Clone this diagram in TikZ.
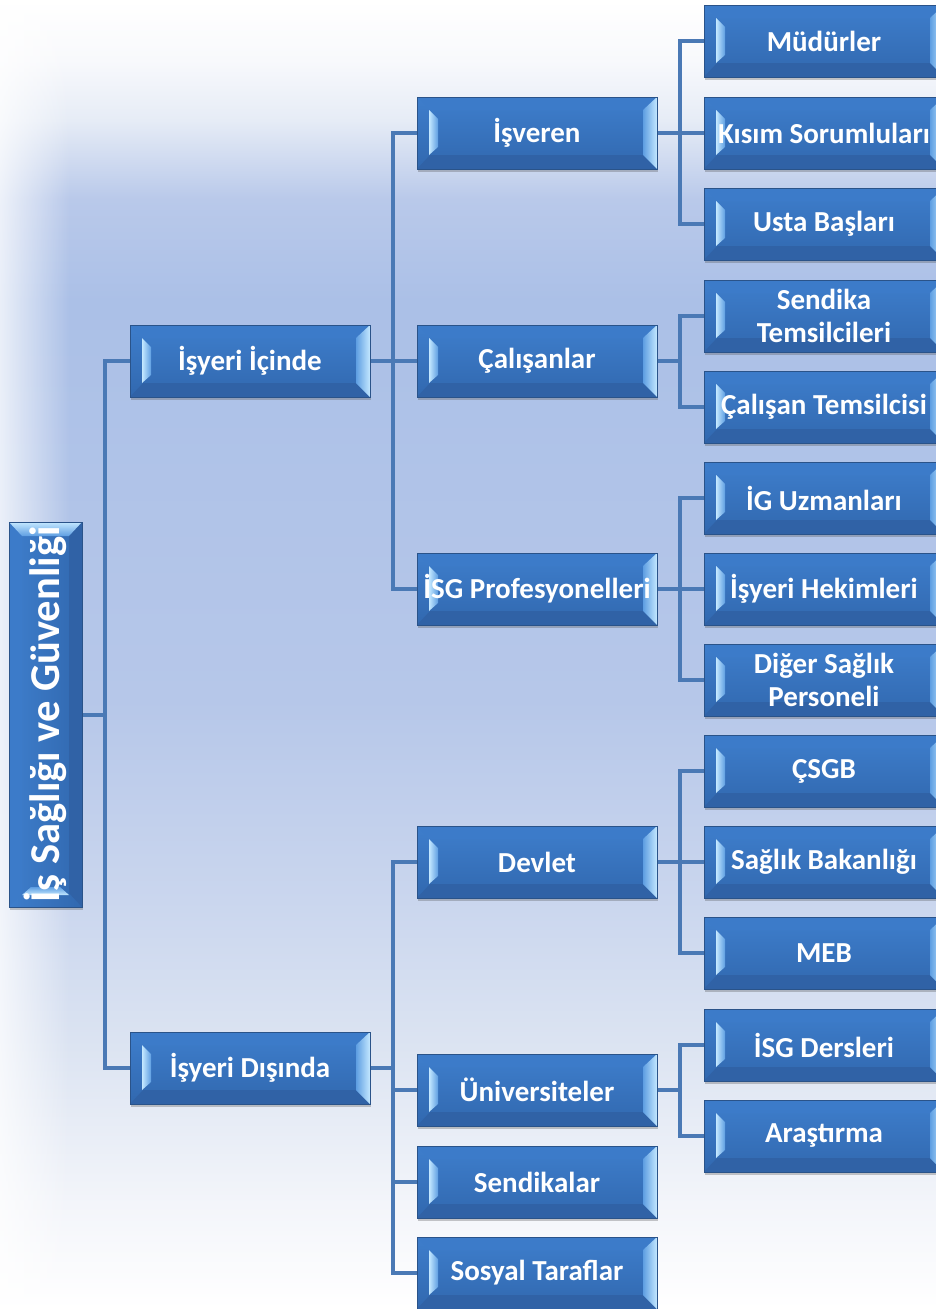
\documentclass[tikz,border=0pt]{standalone}
\usepackage{fontspec}
\setmainfont{Carlito}
\usetikzlibrary{calc,shadows,fadings}
\definecolor{boxtop}{HTML}{3E7ECC}
\definecolor{boxbot}{HTML}{3168AF}
\definecolor{boxline}{HTML}{2A5389}
\definecolor{bevdark}{HTML}{3062A6}
\definecolor{bevtopc}{HTML}{3C7BC9}
\definecolor{bevlightA}{HTML}{C4E8FF}
\definecolor{bevlightB}{HTML}{5E9EE2}
\definecolor{linec}{HTML}{4A79B5}
\definecolor{bgw}{HTML}{FFFFFF}
\definecolor{bga}{HTML}{F3F5FA}
\definecolor{bgb}{HTML}{DCE4F2}
\definecolor{bgc}{HTML}{CAD6EE}
\definecolor{bgd}{HTML}{B6C7E9}
\definecolor{bge}{HTML}{ABC0E7}
\definecolor{bgf}{HTML}{B9C9EA}
\definecolor{bgg}{HTML}{E6ECF6}
\definecolor{bgh}{HTML}{F8F9FC}
\pgfdeclareverticalshading{bgshade}{100bp}{color(0bp)=(bgw); color(25bp)=(bgw); color(29bp)=(bga); color(35bp)=(bgb); color(40.6bp)=(bgc); color(48.3bp)=(bgd); color(63.5bp)=(bge); color(67.4bp)=(bgf); color(70.4bp)=(bgg); color(72.7bp)=(bgh); color(75bp)=(bgw); color(100bp)=(bgw)}
\pgfdeclarelayer{bglayer}
\pgfdeclarelayer{linelayer}
\pgfsetlayers{bglayer,linelayer,main}
\newcommand\bevelH{%
  \coordinate (bnw) at (path picture bounding box.north west);
  \coordinate (bne) at (path picture bounding box.north east);
  \coordinate (bsw) at (path picture bounding box.south west);
  \coordinate (bse) at (path picture bounding box.south east);
  \fill[bevtopc] (bnw) -- (bne) -- ($(bne)+(-14,13)$) -- ($(bnw)+(13,13)$) -- cycle;
  \fill[bevdark] (bsw) -- (bse) -- ($(bse)+(-14,-14)$) -- ($(bsw)+(13,-14)$) -- cycle;
  \shade[left color=bevlightB, right color=bevlightA] (bne) -- (bse) -- ($(bse)+(-14,-14)$) -- ($(bne)+(-14,13)$) -- cycle;
  \shade[left color=bevlightA, right color=bevlightB] ($(bnw)+(12,13)$) -- ($(bnw)+(21,22)$) -- ($(bsw)+(21,-22)$) -- ($(bsw)+(12,-14)$) -- cycle;
}
\newcommand\bevelV{%
  \coordinate (bnw) at (path picture bounding box.north west);
  \coordinate (bne) at (path picture bounding box.north east);
  \coordinate (bsw) at (path picture bounding box.south west);
  \coordinate (bse) at (path picture bounding box.south east);
  \fill[bevtopc] (bnw) -- (bsw) -- ($(bsw)+(13,-14)$) -- ($(bnw)+(13,13)$) -- cycle;
  \fill[bevdark] (bne) -- (bse) -- ($(bse)+(-13,-14)$) -- ($(bne)+(-13,13)$) -- cycle;
  \shade[top color=bevlightA, bottom color=bevlightB] (bnw) -- (bne) -- ($(bne)+(-13,14)$) -- ($(bnw)+(13,14)$) -- cycle;
  \shade[top color=bevlightB, bottom color=bevlightA] ($(bsw)+(13,-12)$) -- ($(bsw)+(22,-20)$) -- ($(bse)+(-22,-20)$) -- ($(bse)+(-13,-12)$) -- cycle;
}
\tikzset{
  box/.style={rectangle, minimum width=240pt, minimum height=72pt, inner sep=0pt,
    top color=boxtop, bottom color=boxbot, draw=boxline, line width=0.8pt,
    text=white, font=\bfseries\fontsize{29}{33}\selectfont, align=center,
    drop shadow={shadow xshift=1pt, shadow yshift=-3pt, opacity=0.3, fill=black!70},
    path picture={\bevelH}},
  rootbox/.style={rectangle, minimum width=73pt, minimum height=385pt, inner sep=0pt,
    left color=boxtop, right color=boxbot, draw=boxline, line width=0.8pt,
    text=white, font=\bfseries\fontsize{42.5}{45}\selectfont,
    drop shadow={shadow xshift=1pt, shadow yshift=-3pt, opacity=0.3, fill=black!70},
    path picture={\bevelV}},
  conn/.style={draw=linec, line width=4pt, line join=miter}
}
\begin{document}
\begin{tikzpicture}[x=1pt,y=-1pt]
\useasboundingbox (0,0) rectangle (936,1309);
\begin{pgfonlayer}{bglayer}
\shade[shading=bgshade] (0,0) rectangle (936,1309);
\fill[white, fill opacity=0.75, path fading=east] (0,0) rectangle (70,1309);
\end{pgfonlayer}

\node[rootbox] (root) at (45.5,714.5) {\rotatebox{90}{İş Sağlığı ve Güvenliği}};
\node[box] (ic) at (250,361) {İşyeri İçinde};
\node[box] (dis) at (250,1068) {İşyeri Dışında};

\node[box] (isveren) at (537,133) {İşveren};
\node[box] (calisan) at (537,361) {Çalışanlar};
\node[box] (isg) at (537,589) {İSG Profesyonelleri};
\node[box] (devlet) at (537,862) {Devlet};
\node[box] (univ) at (537,1090) {Üniversiteler};
\node[box] (send) at (537,1182) {Sendikalar};
\node[box] (sosyal) at (537,1273) {Sosyal Taraflar};

\node[box] (mudur) at (824,41) {Müdürler};
\node[box] (kisim) at (824,133) {Kısım Sorumluları};
\node[box] (usta) at (824,224) {Usta Başları};
\node[box] (sendt) at (824,316) {Sendika\\Temsilcileri};
\node[box] (calt) at (824,407) {Çalışan Temsilcisi};
\node[box] (ig) at (824,498) {İG Uzmanları};
\node[box] (hekim) at (824,589) {İşyeri Hekimleri};
\node[box] (diger) at (824,680) {Diğer Sağlık\\Personeli};
\node[box] (csgb) at (824,771) {ÇSGB};
\node[box] (saglik) at (824,862) {Sağlık Bakanlığı};
\node[box] (meb) at (824,953) {MEB};
\node[box] (dersler) at (824,1045) {İSG Dersleri};
\node[box] (arastirma) at (824,1136) {Araştırma};

\coordinate (j0) at (105,714.5);
\coordinate (j1) at (393,361);
\coordinate (j2) at (393,1068);
\coordinate (j3) at (680,133);
\coordinate (j4) at (680,361);
\coordinate (j5) at (680,589);
\coordinate (j6) at (680,862);
\coordinate (j7) at (680,1090);

\begin{pgfonlayer}{linelayer}
\draw[conn] (root.east) -- (j0);
\draw[conn] (ic.west) -| (j0) |- (dis.west);
\draw[conn] (ic.east) -- (calisan.west);
\draw[conn] (isveren.west) -| (j1) |- (isg.west);
\draw[conn] (dis.east) -- (j2);
\draw[conn] (devlet.west) -| (j2) |- (sosyal.west);
\draw[conn] (j2) |- (univ.west);
\draw[conn] (j2) |- (send.west);
\draw[conn] (isveren.east) -- (kisim.west);
\draw[conn] (mudur.west) -| (j3) |- (usta.west);
\draw[conn] (calisan.east) -- (j4);
\draw[conn] (sendt.west) -| (j4) |- (calt.west);
\draw[conn] (isg.east) -- (hekim.west);
\draw[conn] (ig.west) -| (j5) |- (diger.west);
\draw[conn] (devlet.east) -- (saglik.west);
\draw[conn] (csgb.west) -| (j6) |- (meb.west);
\draw[conn] (univ.east) -- (j7);
\draw[conn] (dersler.west) -| (j7) |- (arastirma.west);
\end{pgfonlayer}
\end{tikzpicture}
\end{document}
